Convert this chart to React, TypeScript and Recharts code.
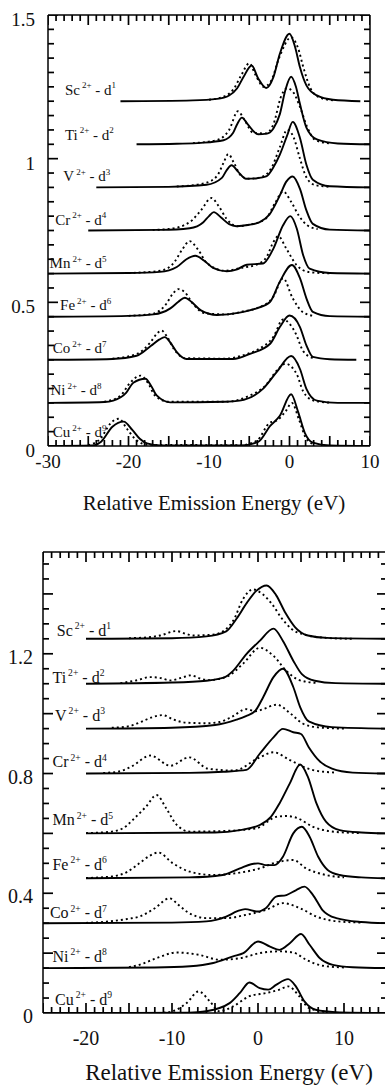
import React from "react";
import { LineChart, Line, XAxis, YAxis, ReferenceDot } from "recharts";

type Pt = [number, number];

const FONT = "'Liberation Serif', 'DejaVu Serif', serif";

// ions from top to bottom, and their d-electron count
const ions = ["Sc", "Ti", "V", "Cr", "Mn", "Fe", "Co", "Ni", "Cu"];
const dCount = ["1", "2", "3", "4", "5", "6", "7", "8", "9"];

// upper plot: baseline of every spectrum, tick labels
const topOffsets = [1.2, 1.05, 0.9, 0.75, 0.6, 0.45, 0.3, 0.15, 0];
const topXLabels = [-30, -20, -10, 0, 10];
const topYLabels = [0, 0.5, 1, 1.5];

// lower plot
const lowOffsets = [1.25, 1.1, 0.95, 0.8, 0.6, 0.45, 0.3, 0.15, 0];
const lowXLabels = [-20, -10, 0, 10];
const lowYLabels = [0, 0.4, 0.8, 1.2];

// upper plot spectra, intensity above baseline: [energy eV, intensity]
const scTopSolid: Pt[] = [[-21,0],[-12,0.003],[-9,0.008],[-7.5,0.02],[-6.5,0.045],[-5.7,0.085],[-4.7,0.124],[-3.9,0.08],[-2.9,0.046],[-2,0.084],[-1.2,0.165],[0,0.235],[0.7,0.188],[1.3,0.118],[2.1,0.055],[3.4,0.02],[5.4,0.005],[8.8,0]];
const scTopDotted: Pt[] = [[-10,0.005],[-8,0.018],[-7,0.04],[-6,0.09],[-5,0.132],[-4.2,0.09],[-3.2,0.05],[-2.3,0.07],[-1.3,0.15],[0.2,0.222],[1,0.19],[1.8,0.11],[2.6,0.045],[3.8,0.012],[5.5,0.003]];
const tiTopSolid: Pt[] = [[-19,0],[-14,0.002],[-11,0.005],[-8.2,0.014],[-7,0.04],[-6.5,0.07],[-5.9,0.093],[-5.2,0.07],[-3.9,0.035],[-2.8,0.037],[-2,0.055],[-1.2,0.105],[-0.5,0.19],[0.2,0.235],[0.8,0.2],[1.3,0.14],[2.1,0.058],[3.4,0.017],[6,0.003],[10,0]];
const tiTopDotted: Pt[] = [[-12,0.004],[-9,0.015],[-7.5,0.05],[-6.4,0.115],[-5.6,0.085],[-4.5,0.04],[-3,0.038],[-2,0.07],[-1,0.17],[-0.3,0.195],[0.5,0.18],[1.3,0.13],[2.2,0.06],[3.2,0.015],[5,0.003]];
const vTopSolid: Pt[] = [[-24,0],[-15,0.002],[-10.3,0.009],[-8.4,0.033],[-7.8,0.06],[-7.2,0.077],[-6.4,0.055],[-5.4,0.03],[-4,0.032],[-2.9,0.038],[-2,0.07],[-1.2,0.114],[-0.3,0.18],[0.4,0.228],[1.3,0.172],[2.1,0.079],[2.9,0.027],[5,0.004],[10,0]];
const vTopDotted: Pt[] = [[-14,0.003],[-10.5,0.015],[-9,0.04],[-8.2,0.085],[-7.6,0.116],[-6.9,0.085],[-6,0.04],[-5,0.03],[-3.5,0.036],[-2.2,0.07],[-1.2,0.14],[-0.3,0.2],[0.5,0.175],[1.3,0.1],[2.1,0.035],[3.2,0.008],[5,0.002]];
const crTopSolid: Pt[] = [[-25,0],[-16,0.002],[-12.4,0.008],[-10.7,0.029],[-10,0.05],[-9.4,0.064],[-8.5,0.045],[-7.5,0.022],[-6.6,0.015],[-5,0.02],[-3.7,0.029],[-2.5,0.055],[-1.2,0.122],[-0.4,0.17],[0.4,0.188],[1.3,0.145],[2.1,0.07],[2.9,0.023],[5,0.003],[10,0]];
const crTopDotted: Pt[] = [[-17,0.002],[-15,0.005],[-12.4,0.029],[-11,0.07],[-9.7,0.113],[-8.8,0.085],[-7.8,0.04],[-6.5,0.015],[-5,0.02],[-3,0.04],[-1.8,0.095],[-0.8,0.136],[0.2,0.1],[1.2,0.05],[2.2,0.018],[3.5,0.005]];
const mnTopSolid: Pt[] = [[-30,0],[-20,0.002],[-16.1,0.006],[-14,0.023],[-12.8,0.05],[-11.7,0.062],[-10.6,0.045],[-9.5,0.02],[-7.8,0.008],[-6.5,0.015],[-5.3,0.031],[-3.3,0.035],[-2,0.087],[-0.8,0.168],[0.1,0.2],[0.9,0.157],[1.7,0.064],[2.5,0.017],[5,0.002],[10,0]];
const mnTopDotted: Pt[] = [[-20,0.002],[-16,0.01],[-14.3,0.04],[-13.3,0.085],[-12.4,0.113],[-11.4,0.085],[-10.2,0.035],[-8,0.01],[-6,0.02],[-4,0.032],[-2.8,0.06],[-2,0.11],[-1.4,0.13],[-0.4,0.087],[0.9,0.029],[2.5,0.005],[5,0.001]];
const feTopSolid: Pt[] = [[-30,0],[-20,0.003],[-16.9,0.008],[-14.8,0.029],[-13.8,0.052],[-13,0.066],[-12.2,0.052],[-11,0.022],[-9,0.006],[-6.2,0.014],[-4.1,0.029],[-2.4,0.052],[-1.2,0.122],[0.3,0.18],[1.3,0.134],[2.1,0.064],[2.9,0.017],[5,0.002],[10,0]];
const feTopDotted: Pt[] = [[-20,0.003],[-17,0.01],[-15.3,0.045],[-14.5,0.08],[-13.8,0.096],[-13,0.085],[-12,0.045],[-10.5,0.012],[-8,0.008],[-5.5,0.02],[-4,0.03],[-2,0.07],[-0.8,0.134],[0.4,0.064],[1.7,0.015],[3,0.003]];
const coTopSolid: Pt[] = [[-30,0],[-22,0.003],[-19,0.014],[-17.2,0.049],[-16.2,0.07],[-15.5,0.079],[-14.8,0.06],[-14,0.027],[-12.8,0.003],[-7,0.003],[-4.9,0.021],[-2.4,0.056],[-1.2,0.114],[0,0.154],[1.3,0.114],[2.1,0.05],[2.9,0.01],[5,0.002],[8.3,0]];
const coTopDotted: Pt[] = [[-22,0.004],[-19,0.02],[-17.3,0.06],[-16.5,0.09],[-15.9,0.102],[-15.2,0.08],[-14.3,0.035],[-13,0.006],[-8,0.004],[-5.5,0.018],[-4,0.035],[-2,0.08],[-0.8,0.14],[0.8,0.09],[1.7,0.03],[3,0.005]];
const niTopSolid: Pt[] = [[-30,0],[-23,0.003],[-21.9,0.008],[-20.3,0.035],[-19.4,0.07],[-17.9,0.084],[-17.2,0.06],[-16.5,0.026],[-14.8,0.002],[-8,0.004],[-6.2,0.008],[-3.3,0.049],[-1.6,0.107],[0.2,0.163],[1.3,0.118],[2.1,0.049],[3.4,0.008],[6,0],[10,0]];
const niTopDotted: Pt[] = [[-23,0.004],[-21,0.025],[-19.8,0.07],[-18.5,0.095],[-17.6,0.07],[-16.7,0.025],[-15,0.004],[-8,0.004],[-5,0.025],[-3,0.06],[-1.5,0.115],[-0.5,0.136],[0.9,0.1],[1.7,0.04],[3,0.008],[5,0.001]];
const cuTopSolid: Pt[] = [[-30,0],[-24.5,0.002],[-23.4,0.015],[-22,0.067],[-20.6,0.085],[-19.5,0.055],[-18.6,0.025],[-17.7,0.009],[-16,0.002],[-6,0.002],[-3.9,0.014],[-2.4,0.07],[-1.2,0.105],[0.2,0.18],[1.1,0.116],[1.9,0.046],[2.9,0.012],[5,0.002],[10,0]];
const cuTopDotted: Pt[] = [[-25,0.003],[-23.5,0.025],[-22.2,0.08],[-21.2,0.095],[-20.2,0.06],[-19,0.02],[-17.5,0.004],[-6,0.003],[-4,0.02],[-2.5,0.08],[-1.5,0.09],[-0.5,0.12],[0.3,0.15],[1.2,0.09],[2,0.03],[3,0.006]];

// lower plot spectra
const scLowSolid: Pt[] = [[-20,0],[-10,0.002],[-6,0.008],[-3.7,0.025],[-2.5,0.067],[-1.3,0.12],[-0.2,0.16],[1,0.178],[2.1,0.146],[3.2,0.086],[4.3,0.039],[5.8,0.011],[8,0.003],[15,0]];
const scLowDotted: Pt[] = [[-15,0.002],[-12.5,0.006],[-11.4,0.011],[-9.5,0.026],[-8.3,0.016],[-7.5,0.011],[-5,0.015],[-2.9,0.06],[-1.7,0.135],[-0.6,0.165],[0.5,0.15],[1.6,0.117],[2.8,0.067],[3.9,0.033],[5.4,0.014],[8,0.003],[11,0]];
const tiLowSolid: Pt[] = [[-20,0],[-10,0.004],[-6,0.01],[-4,0.02],[-2.9,0.043],[-1.35,0.099],[0.2,0.143],[1.8,0.184],[2.9,0.143],[4.1,0.077],[5.1,0.032],[6.6,0.01],[9,0.002],[15,0]];
const tiLowDotted: Pt[] = [[-16,0.002],[-14,0.012],[-12.6,0.022],[-11.5,0.02],[-10.2,0.011],[-8.9,0.02],[-7.8,0.028],[-6.8,0.018],[-5.8,0.012],[-3.6,0.024],[-1.7,0.068],[0.2,0.12],[1.8,0.093],[3.3,0.043],[4.8,0.012],[7,0.002]];
const vLowSolid: Pt[] = [[-20,0],[-10,0.003],[-5,0.012],[-2.5,0.03],[-1.4,0.042],[-0.3,0.06],[0.6,0.105],[1.8,0.172],[2.9,0.2],[4.1,0.139],[4.9,0.072],[5.9,0.024],[8.6,0.005],[15,0]];
const vLowDotted: Pt[] = [[-17,0.003],[-15,0.008],[-13.8,0.02],[-12.3,0.038],[-11.1,0.045],[-9.8,0.03],[-8.4,0.02],[-6,0.018],[-4.5,0.022],[-3,0.04],[-1.4,0.065],[-0.3,0.058],[0.6,0.065],[2.2,0.08],[3.7,0.052],[5.2,0.017],[7,0.004],[10,0]];
const crLowSolid: Pt[] = [[-20,0],[-8,0.002],[-4,0.006],[-1.35,0.012],[0.2,0.066],[1.8,0.121],[2.9,0.149],[4.1,0.138],[5,0.132],[5.9,0.088],[7.1,0.043],[8.6,0.016],[11,0.003],[15,0]];
const crLowDotted: Pt[] = [[-18,0.002],[-16.3,0.006],[-14.8,0.022],[-12.5,0.06],[-10.2,0.026],[-8,0.054],[-5.8,0.016],[-2.8,0.01],[0.2,0.054],[1.8,0.071],[3.7,0.045],[6.3,0.012],[9,0.003]];
const mnLowSolid: Pt[] = [[-20,0],[-5,0.003],[-2.1,0.011],[0.2,0.028],[1.5,0.055],[2.5,0.1],[3.7,0.167],[4.9,0.23],[5.8,0.189],[6.8,0.1],[7.9,0.039],[9.5,0.011],[12,0.003],[15,0]];
const mnLowDotted: Pt[] = [[-20,0.001],[-17,0.006],[-15.3,0.025],[-14.6,0.044],[-13,0.09],[-11.8,0.128],[-10.7,0.085],[-9.5,0.03],[-7.9,0.006],[-4,0.008],[-0.2,0.017],[2.1,0.055],[3.3,0.058],[4.5,0.052],[6.4,0.022],[9,0.005],[12,0.001]];
const feLowSolid: Pt[] = [[-20,0],[-8,0.003],[-4.1,0.011],[-2.1,0.033],[-0.8,0.047],[0,0.05],[0.9,0.044],[1.9,0.044],[2.9,0.072],[4.1,0.15],[5.1,0.172],[6,0.139],[7,0.072],[8.1,0.028],[9.5,0.011],[12,0.003],[15,0]];
const feLowDotted: Pt[] = [[-20,0.001],[-17,0.006],[-15.3,0.02],[-13.8,0.05],[-12.6,0.075],[-11.6,0.086],[-9.9,0.05],[-7.9,0.022],[-5.2,0.011],[-2.1,0.019],[0.2,0.033],[2.1,0.053],[4.1,0.061],[5.6,0.033],[7.9,0.011],[10,0.003]];
const coLowSolid: Pt[] = [[-25,0],[-10,0.002],[-6,0.006],[-3.7,0.022],[-2.4,0.04],[-1.5,0.047],[0,0.039],[0.9,0.05],[2.1,0.089],[3.3,0.094],[4.4,0.11],[5.4,0.122],[6.4,0.094],[7.5,0.044],[9.1,0.017],[12,0.004],[15,0]];
const coLowDotted: Pt[] = [[-20,0.001],[-17.3,0.006],[-15,0.015],[-13.8,0.022],[-12,0.05],[-10.3,0.083],[-9.2,0.06],[-8.3,0.039],[-6,0.017],[-3.7,0.017],[-1.4,0.028],[0.9,0.044],[2.9,0.067],[4.9,0.05],[6.8,0.022],[9,0.007],[12,0.002]];
const niLowSolid: Pt[] = [[-25,0],[-12,0.002],[-7.9,0.006],[-5.2,0.017],[-2.9,0.039],[-1.7,0.05],[0,0.089],[1.4,0.072],[2.5,0.061],[3.7,0.083],[5,0.114],[6,0.078],[7.2,0.033],[8.7,0.011],[11,0.003],[15,0]];
const niLowDotted: Pt[] = [[-15,0.003],[-13.8,0.011],[-11.8,0.033],[-9.5,0.052],[-6.8,0.044],[-4.5,0.028],[-2.1,0.033],[0.2,0.05],[2.5,0.056],[4.1,0.052],[5.6,0.028],[7.5,0.008],[10,0.002]];
const cuLowSolid: Pt[] = [[-25,0],[-8,0.001],[-6,0.006],[-3.3,0.033],[-2.1,0.067],[-1,0.102],[0.2,0.083],[1.2,0.078],[2.1,0.094],[3.5,0.113],[4.4,0.089],[5.4,0.039],[6.7,0.011],[9,0.003],[15,0]];
const cuLowDotted: Pt[] = [[-11,0.001],[-9.9,0.006],[-8.3,0.033],[-6.9,0.072],[-5.6,0.039],[-4.5,0.006],[-2.9,0.022],[-1,0.056],[1,0.067],[2.5,0.078],[3.5,0.089],[4.8,0.056],[5.9,0.017],[8,0.003]];

const topSolid = [scTopSolid, tiTopSolid, vTopSolid, crTopSolid, mnTopSolid, feTopSolid, coTopSolid, niTopSolid, cuTopSolid];
const topDotted = [scTopDotted, tiTopDotted, vTopDotted, crTopDotted, mnTopDotted, feTopDotted, coTopDotted, niTopDotted, cuTopDotted];
const lowSolid = [scLowSolid, tiLowSolid, vLowSolid, crLowSolid, mnLowSolid, feLowSolid, coLowSolid, niLowSolid, cuLowSolid];
const lowDotted = [scLowDotted, tiLowDotted, vLowDotted, crLowDotted, mnLowDotted, feLowDotted, coLowDotted, niLowDotted, cuLowDotted];

// where the ion labels sit (data coords, text baseline)
const topLabelX = [-27.9, -27.9, -28.1, -29.1, -29.8, -28.5, -29.4, -29.7, -29.4];
const topLabelY = [1.223, 1.066, 0.921, 0.77, 0.619, 0.474, 0.323, 0.178, 0.032];
const lowLabelX = [-23.4, -23.9, -23.6, -23.9, -23.9, -23.9, -24.2, -23.9, -23.6];
const lowLabelY = [1.26, 1.104, 0.977, 0.821, 0.627, 0.477, 0.316, 0.171, 0.027];

const near = (a: number, b: number) => Math.abs(a - b) < 1e-6;
const isMult = (v: number, step: number) => near(v / step, Math.round(v / step));
const toRows = (pts: Pt[], off: number) => pts.map(([x, y]) => ({ x, y: y + off }));

function IonLabel(props: any) {
  const { viewBox, ion, n, size } = props;
  const sup = size * 0.6;
  const up = size * 0.42;
  return (
    <text x={viewBox.x} y={viewBox.y} fontFamily={FONT} fontSize={size} fill="#111">
      {ion}
      <tspan dx={2} dy={-up} fontSize={sup}>2+</tspan>
      <tspan dy={up}>{" - d"}</tspan>
      <tspan dy={-up} fontSize={sup}>{n}</tspan>
    </text>
  );
}

function AxisTitle(props: any) {
  const { viewBox, size, baseline, dx } = props;
  return (
    <text
      x={viewBox.x + viewBox.width / 2 + dx}
      y={viewBox.y + baseline}
      textAnchor="middle"
      fontFamily={FONT}
      fontSize={size}
      fill="#111"
    >
      Relative Emission Energy (eV)
    </text>
  );
}

type PanelProps = {
  width: number;
  height: number;
  margin: { top: number; right: number; bottom: number; left: number };
  yAxisWidth: number;
  xAxisHeight: number;
  xDomain: [number, number];
  yDomain: [number, number];
  xTicks: number[];
  yTicks: number[];
  xLabels: number[];
  yLabels: number[];
  yMajor: number;
  tickFont: number;
  xLabelDy: number;
  yLabelDy: number;
  yLabelGap: number;
  pxPerX: number;
  pxPerY: number;
  offsets: number[];
  solid: Pt[][];
  dotted: Pt[][];
  labelX: number[];
  labelY: number[];
  labelSize: number;
  titleSize: number;
  titleBaseline: number;
  titleDx: number;
};

function Panel(p: PanelProps) {
  const [x0, x1] = p.xDomain;
  const [y0, y1] = p.yDomain;
  const xLabelTick = (t: any) => {
    const v = t.payload.value;
    if (!p.xLabels.some((l) => near(l, v))) return <g />;
    return (
      <text x={t.x} y={t.y + p.xLabelDy} textAnchor="middle" fontFamily={FONT} fontSize={p.tickFont} fill="#111">
        {String(v)}
      </text>
    );
  };
  const yLabelTick = (t: any) => {
    const v = t.payload.value;
    if (!p.yLabels.some((l) => near(l, v))) return <g />;
    return (
      <text x={t.x - p.yLabelGap} y={t.y + p.yLabelDy} textAnchor="end" fontFamily={FONT} fontSize={p.tickFont} fill="#111">
        {String(v)}
      </text>
    );
  };
  const noTick = () => <g />;
  const axisLine = { stroke: "#000", strokeWidth: 1.5 };
  const common = {
    type: "number" as const,
    allowDataOverflow: true,
    interval: 0 as const,
    tickSize: 0,
    tickMargin: 0,
    tickLine: false,
    axisLine,
  };
  // inward tick marks on all four sides, drawn as tiny two-point series
  const xLen = (v: number) => (isMult(v, 5) ? 10 : 6) / p.pxPerY;
  const yLen = (v: number) => (isMult(v, p.yMajor) ? 10 : 6) / p.pxPerX;
  const tickSegs: { x: number; y: number }[][] = [];
  p.xTicks.forEach((v) => {
    tickSegs.push([{ x: v, y: y0 }, { x: v, y: y0 + xLen(v) }]);
    tickSegs.push([{ x: v, y: y1 }, { x: v, y: y1 - xLen(v) }]);
  });
  p.yTicks.forEach((v) => {
    tickSegs.push([{ x: x0, y: v }, { x: x0 + yLen(v), y: v }]);
    tickSegs.push([{ x: x1, y: v }, { x: x1 - yLen(v), y: v }]);
  });

  return (
    <LineChart width={p.width} height={p.height} margin={p.margin}>
      <XAxis
        {...common}
        xAxisId="b"
        dataKey="x"
        domain={p.xDomain}
        ticks={p.xTicks}
        height={p.xAxisHeight}
        tick={xLabelTick}
        label={<AxisTitle size={p.titleSize} baseline={p.titleBaseline} dx={p.titleDx} />}
      />
      <XAxis {...common} xAxisId="t" orientation="top" domain={p.xDomain} ticks={p.xTicks} height={1} tick={noTick} />
      <YAxis {...common} yAxisId="l" domain={p.yDomain} ticks={p.yTicks} width={p.yAxisWidth} tick={yLabelTick} />
      <YAxis {...common} yAxisId="r" orientation="right" domain={p.yDomain} ticks={p.yTicks} width={1} tick={noTick} />
      {tickSegs.map((seg, i) => (
        <Line
          key={"tk" + i}
          xAxisId="b"
          yAxisId="l"
          data={seg}
          dataKey="y"
          type="linear"
          stroke="#000"
          strokeWidth={1.7}
          dot={false}
          activeDot={false}
          isAnimationActive={false}
        />
      ))}
      {p.dotted.map((pts, i) => (
        <Line
          key={"dot" + i}
          xAxisId="b"
          yAxisId="l"
          data={toRows(pts, p.offsets[i])}
          dataKey="y"
          type="monotone"
          stroke="#000"
          strokeWidth={1.9}
          strokeDasharray="2 3"
          dot={false}
          activeDot={false}
          isAnimationActive={false}
        />
      ))}
      {p.solid.map((pts, i) => (
        <Line
          key={"sol" + i}
          xAxisId="b"
          yAxisId="l"
          data={toRows(pts, p.offsets[i])}
          dataKey="y"
          type="monotone"
          stroke="#000"
          strokeWidth={1.9}
          dot={false}
          activeDot={false}
          isAnimationActive={false}
        />
      ))}
      {ions.map((ion, i) => (
        <ReferenceDot
          key={"lab" + i}
          xAxisId="b"
          yAxisId="l"
          x={p.labelX[i]}
          y={p.labelY[i]}
          r={0}
          fill="none"
          stroke="none"
          ifOverflow="visible"
          label={<IonLabel ion={ion} n={dCount[i]} size={p.labelSize} />}
        />
      ))}
    </LineChart>
  );
}

const topXTicks = Array.from({ length: 41 }, (_, i) => -30 + i);
const lowXTicks = Array.from({ length: 41 }, (_, i) => -25 + i);
const yTicks = Array.from({ length: 31 }, (_, i) => Math.round(i * 5) / 100);

export default function App() {
  return (
    <div
      style={{
        position: "absolute",
        left: 0,
        top: 0,
        width: 385,
        height: 1087,
        overflow: "hidden",
        background: "#fff",
        fontFamily: FONT,
      }}
    >
      <div style={{ position: "absolute", left: 0, top: 0 }}>
        <Panel
          width={385}
          height={530}
          margin={{ top: 14, right: 14, bottom: 0, left: 0 }}
          yAxisWidth={48}
          xAxisHeight={84}
          xDomain={[-30, 10]}
          yDomain={[0, 1.5]}
          xTicks={topXTicks}
          yTicks={yTicks}
          xLabels={topXLabels}
          yLabels={topYLabels}
          yMajor={0.5}
          tickFont={19}
          xLabelDy={22}
          yLabelDy={11}
          yLabelGap={13}
          pxPerX={8.05}
          pxPerY={287.3}
          offsets={topOffsets}
          solid={topSolid}
          dotted={topDotted}
          labelX={topLabelX}
          labelY={topLabelY}
          labelSize={15}
          titleSize={21}
          titleBaseline={64}
          titleDx={5}
        />
      </div>
      <div style={{ position: "absolute", left: 0, top: 540 }}>
        <Panel
          width={400}
          height={547}
          margin={{ top: 11, right: 12, bottom: 0, left: 0 }}
          yAxisWidth={43}
          xAxisHeight={74}
          xDomain={[-25, 15]}
          yDomain={[0, 1.54]}
          xTicks={lowXTicks}
          yTicks={yTicks}
          xLabels={lowXLabels}
          yLabels={lowYLabels}
          yMajor={0.2}
          tickFont={20}
          xLabelDy={32}
          yLabelDy={10}
          yLabelGap={10}
          pxPerX={8.6}
          pxPerY={299.4}
          offsets={lowOffsets}
          solid={lowSolid}
          dotted={lowDotted}
          labelX={lowLabelX}
          labelY={lowLabelY}
          labelSize={16}
          titleSize={23}
          titleBaseline={67}
          titleDx={14}
        />
      </div>
    </div>
  );
}
